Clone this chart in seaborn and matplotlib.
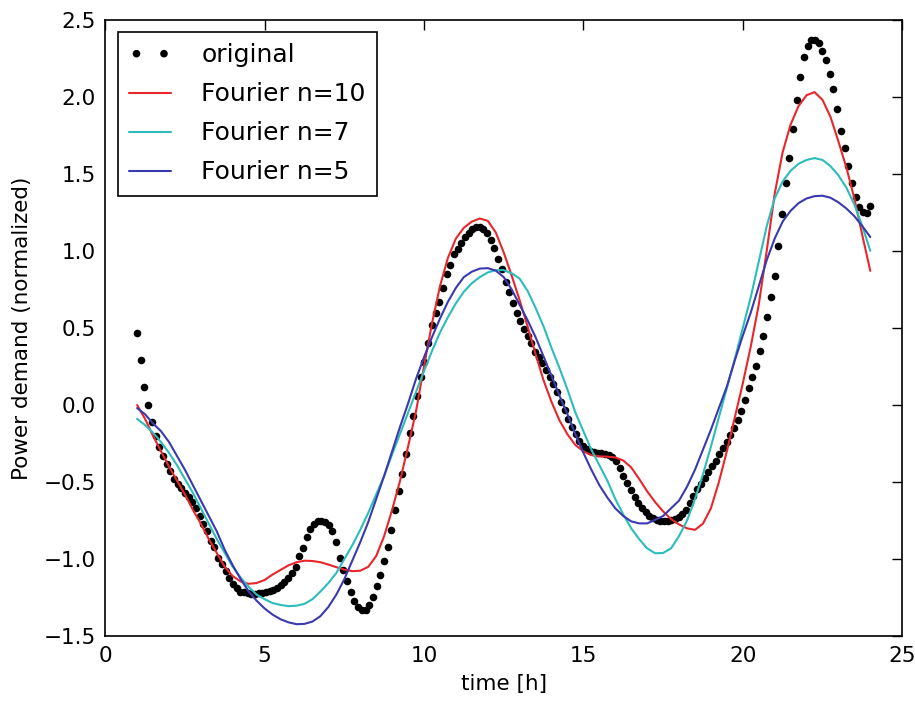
import numpy as np
import matplotlib
matplotlib.use("Agg")
import matplotlib.pyplot as plt
import seaborn as sns

# time range of the measured day [h]
T_START, T_END = 1.0, 24.0

# normalized power demand, 200 equally spaced samples between T_START and T_END
original = [
    0.47, 0.29, 0.12, 0.00, -0.11, -0.20, -0.27, -0.33, -0.38, -0.43,
    -0.48, -0.51, -0.54, -0.57, -0.60, -0.63, -0.67, -0.72, -0.77, -0.82,
    -0.88, -0.92, -0.99, -1.03, -1.08, -1.12, -1.16, -1.19, -1.21, -1.215,
    -1.22, -1.223, -1.223, -1.222, -1.218, -1.21, -1.205, -1.197, -1.185, -1.17,
    -1.15, -1.12, -1.09, -1.05, -0.98, -0.925, -0.855, -0.805, -0.772, -0.755,
    -0.75, -0.757, -0.78, -0.82, -0.89, -0.99, -1.07, -1.14, -1.21, -1.27,
    -1.31, -1.327, -1.327, -1.295, -1.245, -1.175, -1.10, -1.015, -0.92, -0.81,
    -0.68, -0.56, -0.45, -0.32, -0.18, -0.07, 0.06, 0.18, 0.28, 0.40,
    0.52, 0.60, 0.67, 0.76, 0.85, 0.91, 0.98, 1.01, 1.05, 1.09,
    1.115, 1.14, 1.155, 1.155, 1.14, 1.115, 1.07, 1.02, 0.95, 0.885,
    0.80, 0.73, 0.665, 0.60, 0.545, 0.49, 0.45, 0.40, 0.345, 0.31,
    0.27, 0.23, 0.185, 0.135, 0.085, 0.02, -0.035, -0.09, -0.145, -0.19,
    -0.235, -0.265, -0.285, -0.30, -0.305, -0.309, -0.314, -0.317, -0.322, -0.335,
    -0.36, -0.41, -0.46, -0.505, -0.55, -0.595, -0.635, -0.665, -0.695, -0.72,
    -0.735, -0.745, -0.75, -0.752, -0.753, -0.748, -0.74, -0.725, -0.705, -0.68,
    -0.637, -0.59, -0.548, -0.513, -0.473, -0.435, -0.396, -0.36, -0.32, -0.28,
    -0.24, -0.192, -0.148, -0.10, -0.04, 0.03, 0.11, 0.18, 0.255, 0.35,
    0.45, 0.57, 0.70, 0.84, 1.03, 1.24, 1.44, 1.60, 1.79, 1.98,
    2.13, 2.26, 2.33, 2.365, 2.37, 2.35, 2.30, 2.24, 2.15, 2.05,
    1.92, 1.78, 1.665, 1.55, 1.44, 1.35, 1.285, 1.255, 1.245, 1.29,
]

# Fourier fits, sampled every FIT_STEP hours from T_START (4 values per hour)
FIT_STEP = 0.25
fourier_n10 = [
    0.0, -0.09, -0.2, -0.3,
    -0.4, -0.49, -0.58, -0.68,
    -0.77, -0.87, -0.96, -1.05,
    -1.11, -1.145, -1.16, -1.155,
    -1.135, -1.1, -1.07, -1.04,
    -1.02, -1.01, -1.012, -1.02,
    -1.035, -1.052, -1.068, -1.078,
    -1.075, -1.05, -0.98, -0.85,
    -0.68, -0.49, -0.27, -0.04,
    0.25, 0.53, 0.77, 0.955,
    1.08, 1.15, 1.19, 1.21,
    1.195, 1.12, 0.99, 0.84,
    0.68, 0.51, 0.33, 0.16,
    0.02, -0.1, -0.19, -0.26,
    -0.3, -0.325, -0.333, -0.335,
    -0.34, -0.36, -0.405, -0.48,
    -0.56, -0.63, -0.69, -0.74,
    -0.775, -0.8, -0.81, -0.77,
    -0.67, -0.5, -0.3, -0.08,
    0.14, 0.38, 0.65, 1.0,
    1.37, 1.64, 1.82, 1.94,
    2.01, 2.03, 1.98, 1.87,
    1.71, 1.54, 1.34, 1.1,
    0.87,
]
fourier_n7 = [
    -0.09, -0.13, -0.18, -0.24,
    -0.31, -0.39, -0.48, -0.57,
    -0.67, -0.77, -0.87, -0.96,
    -1.05, -1.12, -1.18, -1.23,
    -1.26, -1.285, -1.297, -1.305,
    -1.302, -1.29, -1.26, -1.21,
    -1.155, -1.09, -1.0, -0.91,
    -0.81, -0.7, -0.58, -0.46,
    -0.32, -0.185, -0.05, 0.085,
    0.22, 0.35, 0.47, 0.57,
    0.66, 0.735, 0.79, 0.83,
    0.86, 0.875, 0.875, 0.855,
    0.82, 0.74, 0.63, 0.51,
    0.37, 0.24, 0.1, -0.05,
    -0.17, -0.29, -0.39, -0.49,
    -0.61, -0.71, -0.8, -0.87,
    -0.93, -0.962, -0.96, -0.93,
    -0.85, -0.75, -0.61, -0.45,
    -0.27, -0.08, 0.11, 0.3,
    0.5, 0.7, 0.93, 1.16,
    1.34, 1.45, 1.52, 1.565,
    1.59, 1.602, 1.59, 1.55,
    1.49, 1.41, 1.3, 1.16,
    1.0,
]
fourier_n5 = [
    -0.02, -0.06, -0.12, -0.17,
    -0.24, -0.33, -0.42, -0.52,
    -0.62, -0.72, -0.82, -0.94,
    -1.04, -1.13, -1.21, -1.27,
    -1.32, -1.36, -1.39, -1.41,
    -1.422, -1.42, -1.405, -1.37,
    -1.31, -1.23, -1.13, -1.01,
    -0.89, -0.76, -0.61, -0.46,
    -0.3, -0.14, 0.01, 0.17,
    0.31, 0.44, 0.56, 0.67,
    0.76, 0.83, 0.865, 0.885,
    0.888, 0.872, 0.83, 0.75,
    0.65, 0.55, 0.44, 0.315,
    0.19, 0.06, -0.06, -0.19,
    -0.31, -0.42, -0.52, -0.6,
    -0.67, -0.72, -0.755, -0.768,
    -0.768, -0.745, -0.72, -0.67,
    -0.62, -0.53, -0.42, -0.29,
    -0.16, -0.02, 0.12, 0.29,
    0.45, 0.6, 0.77, 0.94,
    1.08, 1.19, 1.26, 1.31,
    1.34, 1.355, 1.358, 1.345,
    1.315, 1.275, 1.225, 1.16,
    1.09,
]

hours = np.linspace(T_START, T_END, len(original))
fit_hours = T_START + FIT_STEP * np.arange(len(fourier_n10))

sns.set_style("white")
plt.rcParams["font.family"] = ["DejaVu Sans"]
plt.rcParams["text.color"] = "black"
plt.rcParams["axes.labelcolor"] = "black"

fig = plt.figure(figsize=(9.15, 7.03), dpi=100)
ax = fig.add_axes([0.115, 0.095, 0.871, 0.877])

sns.scatterplot(x=hours, y=original, color="black", s=30, linewidth=0,
                ax=ax, label="original")
sns.lineplot(x=fit_hours, y=fourier_n10, color="#e8262b", lw=1.5, ax=ax,
             label="Fourier n=10")
sns.lineplot(x=fit_hours, y=fourier_n7, color="#2cbcbc", lw=1.5, ax=ax,
             label="Fourier n=7")
sns.lineplot(x=fit_hours, y=fourier_n5, color="#3a3aae", lw=1.5, ax=ax,
             label="Fourier n=5")

ax.set_xlim(0, 25)
ax.set_ylim(-1.5, 2.5)
ax.set_xticks(np.arange(0, 26, 5))
ax.set_yticks(np.arange(-1.5, 2.51, 0.5))
ax.set_xlabel("time [h]", fontsize=15.5, labelpad=6)
ax.set_ylabel("Power demand (normalized)", fontsize=15.5, labelpad=8)

ax.tick_params(direction="in", top=True, right=True, length=7, width=1,
               colors="black", labelsize=15.5, pad=7)
for side in ax.spines.values():
    side.set_color("black")
    side.set_linewidth(1.2)

leg = ax.legend(loc="upper left", scatterpoints=2, scatteryoffsets=[0.5],
                fontsize=18, fancybox=False, framealpha=1, edgecolor="black",
                borderaxespad=0.5, borderpad=0.45, handlelength=1.7,
                handletextpad=1.2, labelspacing=0.6)
leg.get_frame().set_linewidth(1.2)
for txt in leg.get_texts():
    txt.set_color("black")

fig.savefig("out.png", dpi=100)
